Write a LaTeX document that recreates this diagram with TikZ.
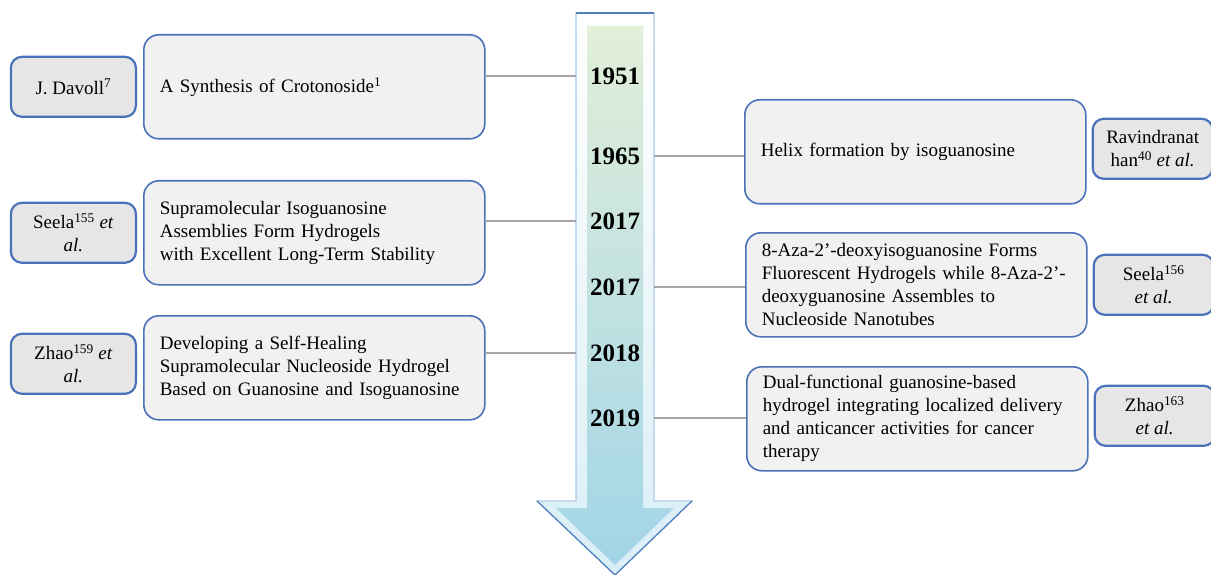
\documentclass[tikz,border=0pt]{standalone}
\usepackage{fontspec}
\setmainfont{Liberation Serif}
\usetikzlibrary{positioning}
\definecolor{boxblue}{HTML}{4A72B8}
\definecolor{boxgray}{HTML}{F1F1F1}
\definecolor{tabgray}{HTML}{E6E6E6}
\definecolor{linkgray}{HTML}{A6A6A6}
\definecolor{shaftgreen}{HTML}{E2EFD9}
\definecolor{shaftblue}{HTML}{A2D5E8}
\definecolor{rimblue}{HTML}{A9C9E8}
\definecolor{tipblue}{HTML}{5180C0}

\begin{document}
\begin{tikzpicture}[x=1pt,y=-1pt,
  every node/.style={font=\fontsize{19}{23}\selectfont},
  event/.style={draw=boxblue,line width=1.6pt,fill=boxgray,rounded corners=15pt,
    anchor=north west,text width=309pt,inner xsep=16pt,inner ysep=4pt,
    minimum height=104pt,align=left},
  author/.style={draw=boxblue,line width=2.2pt,fill=tabgray,rounded corners=11pt,
    minimum height=60pt,align=center,inner sep=2pt},
  year/.style={font=\fontsize{25}{28}\selectfont\bfseries,minimum width=78pt,inner sep=0pt},
  link/.style={draw=linkgray,line width=1.4pt}]
  \useasboundingbox (0,0) rectangle (1211,575);
% time arrow
  \path[draw=rimblue,line width=1.2pt,top color=white,bottom color=shaftblue!40]
    (576,13) -- (654,13) -- (654,501) -- (692,501) -- (615,575) -- (537,501) -- (576,501) -- cycle;
  \shade[top color=shaftgreen,bottom color=shaftblue]
    (587,26) -- (643,26) -- (643,508) -- (674,508) -- (615,565) -- (556,508) -- (587,508) -- cycle;
  \draw[tipblue,line width=2pt] (576,13) -- (654,13);
  \draw[tipblue,line width=1.2pt] (537,501) -- (615,575) -- (692,501);
% years
  \node[year] (y1951) at (615,76) {1951};
  \node[year] (y1965) at (615,156) {1965};
  \node[year] (y2017a) at (615,221) {2017};
  \node[year] (y2017b) at (615,287) {2017};
  \node[year] (y2018) at (615,353) {2018};
  \node[year] (y2019) at (615,418) {2019};
% events, left side
  \node[event] (ev1951) at (143,34) {A Synthesis of Crotonoside\textsuperscript{1}};
  \node[event] (ev2017a) at (143,180) {Supramolecular Isoguanosine\\Assemblies Form Hydrogels\\with Excellent Long-Term Stability};
  \node[event] (ev2018) at (143,315) {Developing a Self-Healing\\Supramolecular Nucleoside Hydrogel\\Based on Guanosine and Isoguanosine};
% events, right side
  \node[event] (ev1965) at (744,99) {Helix formation by isoguanosine};
  \node[event] (ev2017b) at (745,232) {8-Aza-2’-deoxyisoguanosine Forms\\Fluorescent Hydrogels while 8-Aza-2’-\\deoxyguanosine Assembles to\\Nucleoside Nanotubes};
  \node[event] (ev2019) at (746,366) {Dual-functional guanosine-based\\hydrogel integrating localized delivery\\and anticancer activities for cancer\\therapy};
% authors
  \node[author,minimum width=125pt,left=6pt of ev1951] (davoll) {J. Davoll\textsuperscript{7}};
  \node[author,minimum width=125pt,left=6pt of ev2017a] (seelaA) {Seela\textsuperscript{155} \textit{et}\\\textit{al.}};
  \node[author,minimum width=125pt,left=6pt of ev2018,yshift=4pt] (zhaoA) {Zhao\textsuperscript{159} \textit{et}\\\textit{al.}};
  \node[author,minimum width=120pt,right=5pt of ev1965,yshift=3pt] (ravi) {Ravindranat\\han\textsuperscript{40} \textit{et al.}};
  \node[author,minimum width=120pt,right=5pt of ev2017b] (seelaB) {Seela\textsuperscript{156}\\\textit{et al.}};
  \node[author,minimum width=120pt,right=5pt of ev2019,yshift=3pt] (zhaoB) {Zhao\textsuperscript{163}\\\textit{et al.}};
% connectors
  \draw[link] (y1951.west) -- (y1951.west -| ev1951.east);
  \draw[link] (y2017a.west) -- (y2017a.west -| ev2017a.east);
  \draw[link] (y2018.west) -- (y2018.west -| ev2018.east);
  \draw[link] (y1965.east) -- (y1965.east -| ev1965.west);
  \draw[link] (y2017b.east) -- (y2017b.east -| ev2017b.west);
  \draw[link] (y2019.east) -- (y2019.east -| ev2019.west);
\end{tikzpicture}
\end{document}
